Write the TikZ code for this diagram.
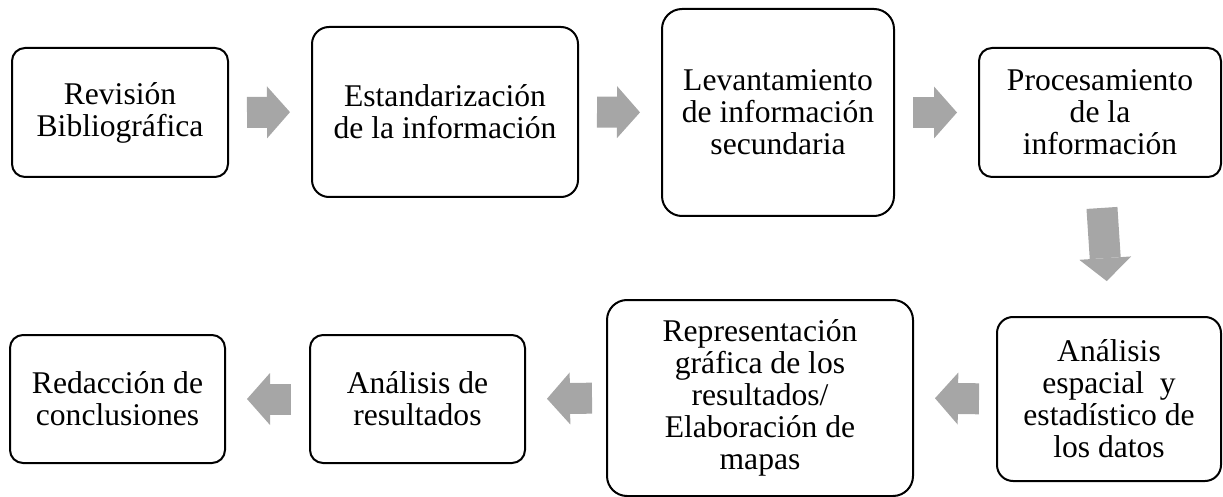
\documentclass[tikz,border=0pt]{standalone}
\usepackage{fontspec}
\setmainfont{Liberation Serif}
\usetikzlibrary{arrows.meta}
\definecolor{arrowgray}{RGB}{166,166,166}

\begin{document}
\begin{tikzpicture}[x=1pt,y=-1pt,
  paso/.style={draw, line width=2pt, rounded corners=#1, align=center, inner sep=0pt,
    font=\fontsize{31.6}{32}\selectfont},
  paso/.default=13pt,
  flecha/.style={draw=arrowgray, line width=31pt,
    -{Triangle[length=23pt,width=52pt,line width=0pt]},
    shorten <=18pt, shorten >=21pt}]

\useasboundingbox (0,0) rectangle (1223,497);

\node[paso, minimum width=216pt, minimum height=129pt] (revision) at (120,112.5) {Revisión\\Bibliográfica};
\node[paso=17pt, minimum width=266pt, minimum height=170pt] (estandar) at (445,112) {Estandarización\\de la información};
\node[paso=20pt, minimum width=232pt, minimum height=207pt] (levantam) at (778,112.5) {Levantamiento\\de información\\secundaria};
\node[paso, minimum width=242pt, minimum height=129pt] (procesam) at (1100,112.5) {Procesamiento\\de la\\información};

\node[paso=16pt, minimum width=224pt, minimum height=164pt] (analisis) at (1109,399) {Análisis\\espacial\ \ y\\estadístico de\\los datos};
\node[paso=20pt, minimum width=306pt, minimum height=196pt] (represen) at (760,398) {Representación\\gráfica de los\\resultados/\\Elaboración de\\mapas};
\node[paso, minimum width=215pt, minimum height=128pt] (resultad) at (417.5,399) {Análisis de\\resultados};
\node[paso, minimum width=215pt, minimum height=128pt] (redaccion) at (117.5,399) {Redacción de\\conclusiones};

\draw[flecha] (revision.east) -- (estandar.west);
\draw[flecha] (estandar.east) -- (levantam.west);
\draw[flecha] (levantam.east) -- (procesam.west);
\draw[flecha, shorten <=30pt, shorten >=35pt] (procesam.south) -- (analisis.north);
\draw[flecha, shorten <=17pt] (analisis.west) -- (represen.east);
\draw[flecha, shorten <=14pt] (represen.west) -- (resultad.east);
\draw[flecha] (resultad.west) -- (redaccion.east);
\end{tikzpicture}
\end{document}
